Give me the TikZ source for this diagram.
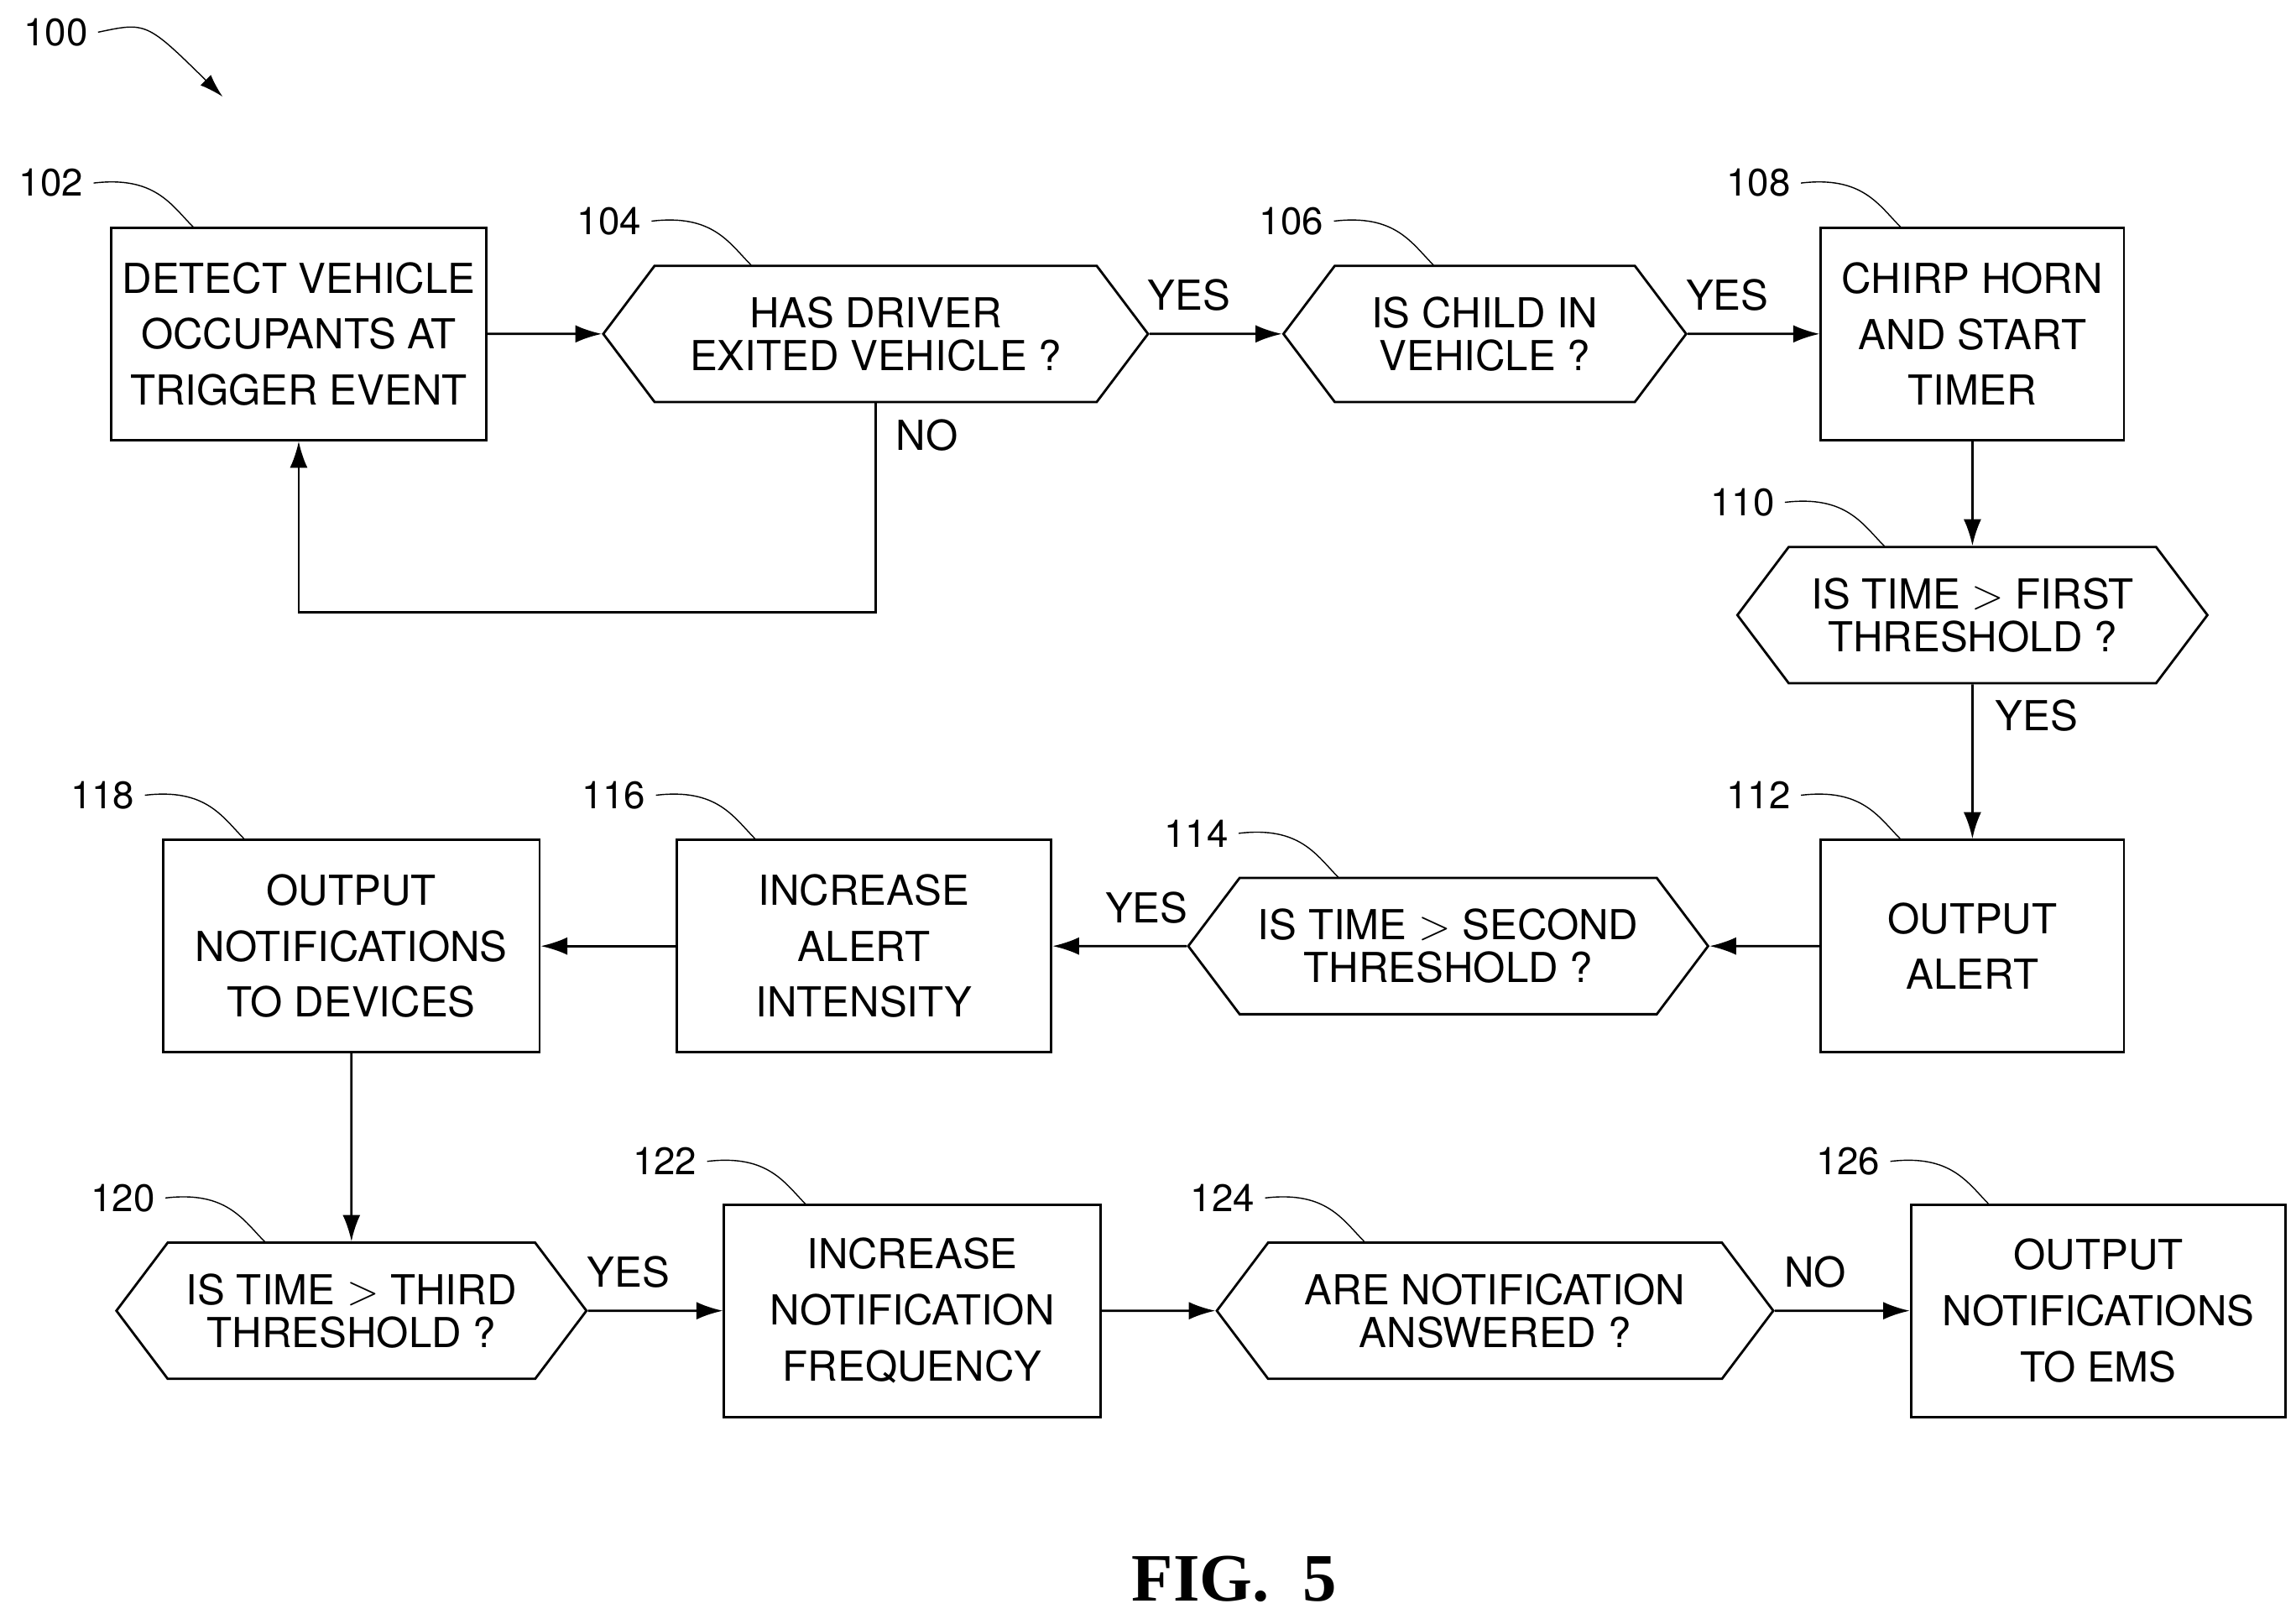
\documentclass[tikz,border=0pt]{standalone}
\usepackage{fontspec}
\setsansfont{TeX Gyre Heros}
\newfontfamily\figfont{Liberation Serif}
\usetikzlibrary{shapes.symbols,arrows.meta,positioning}

\newlength{\unitx}
\setlength{\unitx}{0.01745cm}
\tikzset{
  proc/.style={rectangle, draw, thick, align=center, minimum width=256\unitx, minimum height=145\unitx,
    font=\sffamily\fontsize{14}{19}\selectfont, inner sep=0pt},
  test/.style={signal, signal to=west and east, signal pointer angle=106, draw, thick, align=center,
    minimum height=93\unitx, font=\sffamily\fontsize{14}{14.5}\selectfont, inner sep=0pt},
  flow/.style={thick, -{Latex[length=9pt,width=6pt]}},
  lead/.style={thin},
  refno/.style={font=\sffamily\fontsize{13}{15}\selectfont},
  lbl/.style={font=\sffamily\fontsize{14}{16}\selectfont}
}

\begin{document}
\begin{tikzpicture}[x=0.01745cm,y=-0.01745cm]
\useasboundingbox (0,0) rectangle (1568,1102);

% top row
\node[proc] (detect) at (204,228) {DETECT VEHICLE\\OCCUPANTS AT\\TRIGGER EVENT};
\node[test, minimum width=372\unitx] (exited) at (598,228) {HAS DRIVER\\EXITED VEHICLE ?};
\node[test, minimum width=275\unitx] (child) at (1014,228) {IS CHILD IN\\VEHICLE ?};
\node[proc, minimum width=207\unitx] (chirp) at (1347,228) {CHIRP HORN\\AND START\\TIMER};
\node[test, minimum width=321\unitx] (first) at (1347,420) {IS TIME $>$ FIRST\\THRESHOLD ?};

% middle row
\node[proc, minimum width=207\unitx] (alert) at (1347,646) {OUTPUT\\ALERT};
\node[test, minimum width=355\unitx] (second) at (989,646) {IS TIME $>$ SECOND\\THRESHOLD ?};
\node[proc] (intensity) at (590,646) {INCREASE\\ALERT\\INTENSITY};
\node[proc, minimum width=257\unitx] (devices) at (240,646) {OUTPUT\\NOTIFICATIONS\\TO DEVICES};

% bottom row
\node[test, minimum width=321\unitx] (third) at (240,895) {IS TIME $>$ THIRD\\THRESHOLD ?};
\node[proc, minimum width=257\unitx] (freq) at (623,895) {INCREASE\\NOTIFICATION\\FREQUENCY};
\node[test, minimum width=380\unitx] (answered) at (1021,895) {ARE NOTIFICATION\\ANSWERED ?};
\node[proc] (ems) at (1433,895) {OUTPUT\\NOTIFICATIONS\\TO EMS};

% connectors
\draw[flow] (detect) -- (exited);
\draw[flow] (exited) -- node[lbl, above=4pt, pos=0.3] {YES} (child);
\draw[flow] (child) -- node[lbl, above=4pt, pos=0.3] {YES} (chirp);
\draw[flow] (chirp) -- (first);
\draw[flow] (first) -- node[lbl, right=4pt, pos=0.2] {YES} (alert);
\draw[flow] (alert) -- (second);
\draw[flow] (second) -- node[lbl, above=4pt, pos=0.3] {YES} (intensity);
\draw[flow] (intensity) -- (devices);
\draw[flow] (devices) -- (third);
\draw[flow] (third) -- node[lbl, above=4pt, pos=0.3] {YES} (freq);
\draw[flow] (freq) -- (answered);
\draw[flow] (answered) -- node[lbl, above=4pt, pos=0.3] {NO} (ems);
\coordinate (noturn) at (598,418);
\draw[flow] (exited.south) -- (noturn) -| (detect.south);
\node[lbl] (nolbl) at (633,297) {NO};

% reference numbers
\node[refno] (n100) at (38,22) {100};
\draw[lead, -{Latex[length=8pt,width=5pt]}] (n100.east) .. controls (100,15) .. (152,66);
\foreach \name/\num/\x/\y in {detect/102/35/125, exited/104/416/151, child/106/882/151,
  chirp/108/1201/125, first/110/1190/343, alert/112/1201/543, second/114/817/569,
  intensity/116/419/543, devices/118/70/543, third/120/84/818, freq/122/454/793,
  answered/124/835/818, ems/126/1262/793}{
  \node[refno] (r\num) at (\x,\y) {\num};
  \draw[lead] (r\num.east) .. controls ++(42,-5) and ++(-15,-15) .. ++(68,30);
}

\node[font=\figfont\bfseries\fontsize{23}{25}\selectfont] (fig) at (843,1078) {FIG.~~5};
\end{tikzpicture}
\end{document}
